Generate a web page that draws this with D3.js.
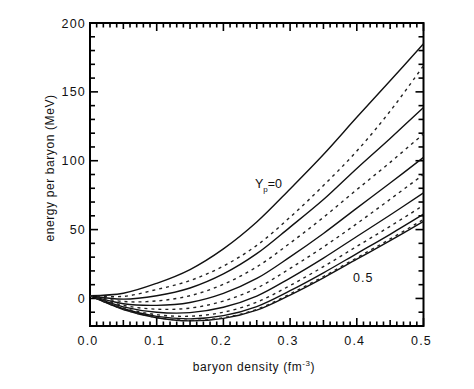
<!DOCTYPE html>
<html><head><meta charset="utf-8">
<script src="https://cdn.jsdelivr.net/npm/d3@7"></script>
<style>body{margin:0;background:#fff}</style></head>
<body>
<svg id="chart" width="474" height="389"></svg>
<script>
// baryon density grid (fm^-3)
const density = [0, 0.05, 0.1, 0.15, 0.2, 0.25, 0.3, 0.35, 0.4, 0.45, 0.5];

// solid curves: Yp = 0, 0.1, 0.2, 0.3, 0.4, 0.5 (energy per baryon, MeV)
const solidYp0 = [2, 3.8, 11.0, 21.0, 36.0, 55.5, 79.5, 104.5, 131.5, 158.0, 185.0];
const solidYp1 = [2, -0.5, 2.0, 7.6, 17.8, 32.5, 51.8, 71.8, 94.4, 116.2, 138.6];
const solidYp2 = [2, -3.8, -5.0, -2.9, 3.7, 14.5, 30.2, 47.2, 65.6, 83.8, 102.4];
const solidYp3 = [2, -6.1, -10.0, -10.3, -6.4, 1.7, 14.8, 29.3, 45.0, 60.6, 76.6];
const solidYp4 = [2, -7.5, -13.0, -14.8, -12.5, -5.9, 5.6, 18.6, 32.6, 46.6, 61.2];
const solidYp5 = [2, -8.0, -14.0, -16.3, -14.5, -8.5, 2.5, 15.0, 28.5, 42.0, 56.0];

// dashed curves
const dashedA = [2, 1.5, 6.5, 13.0, 23.5, 38.5, 59.0, 82.0, 107.0, 136.0, 169.0];
const dashedB = [2, -2.2, -1.8, 2.0, 10.3, 22.9, 40.2, 58.9, 79.0, 98.8, 119.5];
const dashedC = [2, -5.0, -7.8, -7.0, -1.9, 7.5, 21.8, 37.4, 54.3, 72.0, 90.0];
const dashedD = [2, -6.9, -11.8, -12.9, -10.0, -2.7, 9.4, 23.1, 37.8, 52.4, 67.6];
const dashedE = [2, -7.9, -13.8, -15.9, -14.0, -7.9, 3.3, 15.9, 29.5, 43.2, 57.3];

const solidSeries = [solidYp0, solidYp1, solidYp2, solidYp3, solidYp4, solidYp5];
const dashedSeries = [dashedA, dashedB, dashedC, dashedD, dashedE];

const xTickValues = [0, 0.1, 0.2, 0.3, 0.4, 0.5];
const xTickLabels = ["0.0", "0.1", "0.2", "0.3", "0.4", "0.5"];
const yTickValues = [0, 50, 100, 150, 200];
const yTickLabels = ["0", "50", "100", "150", "200"];

const svg = d3.select("#chart");
const x = d3.scaleLinear().domain([0, 0.5]).range([90, 423.5]);
const y = d3.scaleLinear().domain([-20, 200]).range([326, 23]);
const font = "'Liberation Sans', Arial, sans-serif";
const X0 = x(0), X1 = x(0.5), YB = y(-20), YT = y(200);

// tick marks (all pointing inward)
const xMinor = d3.range(0, 51).map(i => i / 100);
const yMinor = d3.range(-20, 201, 10);
function xLen(v) { const k = Math.round(v * 100); return k % 10 === 0 ? 8 : (k % 5 === 0 ? 6 : 4.5); }
function yLen(v) { return v % 50 === 0 ? 8 : 5; }
const ticks = svg.append("g");
ticks.selectAll("line.xb").data(xMinor).enter().append("line").attr("class", "xb")
  .attr("x1", d => x(d)).attr("x2", d => x(d)).attr("y1", YB).attr("y2", d => YB - xLen(d))
  .style("stroke", "#000").style("stroke-width", "1.6px");
ticks.selectAll("line.xt").data(xMinor).enter().append("line").attr("class", "xt")
  .attr("x1", d => x(d)).attr("x2", d => x(d)).attr("y1", YT).attr("y2", d => YT + xLen(d))
  .style("stroke", "#000").style("stroke-width", "1.6px");
ticks.selectAll("line.yl").data(yMinor).enter().append("line").attr("class", "yl")
  .attr("x1", X0).attr("x2", d => X0 + yLen(d)).attr("y1", d => y(d)).attr("y2", d => y(d))
  .style("stroke", "#000").style("stroke-width", "1.6px");
ticks.selectAll("line.yr").data(yMinor).enter().append("line").attr("class", "yr")
  .attr("x1", X1).attr("x2", d => X1 - yLen(d)).attr("y1", d => y(d)).attr("y2", d => y(d))
  .style("stroke", "#000").style("stroke-width", "1.6px");

// frame
svg.append("rect").attr("x", X0).attr("y", YT).attr("width", X1 - X0).attr("height", YB - YT)
  .attr("fill", "none").attr("stroke", "#000").attr("stroke-width", 2);

// curves
const line = d3.line().x((d, i) => x(density[i])).y(d => y(d)).curve(d3.curveCatmullRom.alpha(0.5));
svg.append("g").selectAll("path").data(solidSeries).join("path")
  .attr("d", line).attr("fill", "none").attr("stroke", "#111").attr("stroke-width", 1.4);
svg.append("g").selectAll("path").data(dashedSeries).join("path")
  .attr("d", line).attr("fill", "none").attr("stroke", "#222").attr("stroke-width", 1.4)
  .attr("stroke-dasharray", "3,4");

// tick labels
svg.append("g").selectAll("text").data(xTickValues).join("text")
  .attr("x", d => x(d) - 2).attr("y", 345).attr("text-anchor", "middle")
  .attr("font-family", font).attr("font-size", 12.5).attr("letter-spacing", 1.2)
  .attr("fill", "#111").text((d, i) => xTickLabels[i]);
svg.append("g").selectAll("text").data(yTickValues).join("text")
  .attr("x", 86).attr("y", d => y(d) + 4.5).attr("text-anchor", "end")
  .attr("font-family", font).attr("font-size", 12.5).attr("letter-spacing", 1.2)
  .attr("fill", "#111").text((d, i) => yTickLabels[i]);

// axis titles
svg.append("text").attr("x", 254).attr("y", 371).attr("text-anchor", "middle")
  .attr("font-family", font).attr("font-size", 12).attr("letter-spacing", 0.6).attr("fill", "#111")
  .html("baryon density (fm<tspan dy='-5' font-size='8'>-3</tspan><tspan dy='5'>)</tspan>");
svg.append("text").attr("transform", "translate(54,168) rotate(-90)").attr("text-anchor", "middle")
  .attr("font-family", font).attr("font-size", 12).attr("letter-spacing", 0.6).attr("fill", "#111")
  .text("energy per baryon (MeV)");

// curve labels
svg.append("text").attr("x", 255).attr("y", 188).attr("font-family", font).attr("font-size", 12.5)
  .attr("fill", "#111").html("Y<tspan dy='4' font-size='8'>p</tspan><tspan dy='-4'>=0</tspan>");
svg.append("text").attr("x", 353).attr("y", 282).attr("font-family", font).attr("font-size", 12.5)
  .attr("letter-spacing", 1).attr("fill", "#111").text("0.5");
</script>
</body></html>
